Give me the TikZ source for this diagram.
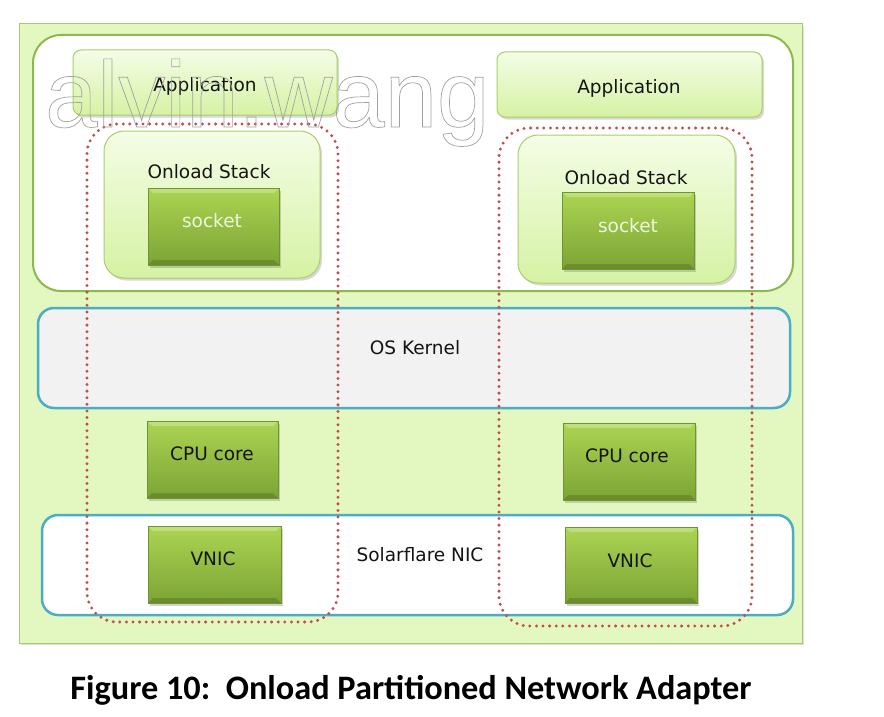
\documentclass[tikz,border=0pt]{standalone}
\usepackage{fontspec}
\setmainfont{DejaVu Sans}
\newfontfamily\capfont{Carlito}
\newfontfamily\wmfont{Liberation Sans}
\usetikzlibrary{shadows}
\definecolor{outerfill}{HTML}{E2F8C0}
\definecolor{outerline}{HTML}{A6CC6A}
\definecolor{appline}{HTML}{8DB84A}
\definecolor{boxline}{HTML}{A8CF6A}
\definecolor{boxtop}{HTML}{F4FDE6}
\definecolor{boxbot}{HTML}{D6F2A4}
\definecolor{gtop}{HTML}{ACD452}
\definecolor{gbot}{HTML}{7CA435}
\definecolor{gline}{HTML}{6E962F}
\definecolor{blueline}{HTML}{4BACC6}
\definecolor{kernfill}{HTML}{F2F2F2}
\definecolor{reddots}{HTML}{C0504D}
\definecolor{txt}{HTML}{141414}
\definecolor{socktxt}{HTML}{EEF7DD}
\definecolor{wmgray}{HTML}{A0A0A0}
\begin{document}
\begin{tikzpicture}[x=1pt,y=-1pt,
  outerbox/.style={draw=outerline, line width=1pt, fill=outerfill, inner sep=0pt, outer sep=0pt,
    drop shadow={shadow xshift=2pt, shadow yshift=-2pt, opacity=0.25}},
  appregion/.style={draw=appline, line width=2pt, fill=white, rounded corners=28pt, inner sep=0pt},
  appbox/.style={draw=boxline, line width=1pt, top color=boxtop, bottom color=boxbot,
    rounded corners=8pt, inner sep=0pt,
    drop shadow={shadow xshift=2pt, shadow yshift=-2.5pt, opacity=0.3}},
  stackbox/.style={appbox, rounded corners=20pt},
  greenbox/.style={draw=gline, line width=0.6pt, top color=gtop, bottom color=gbot, inner sep=0pt,
    drop shadow={shadow xshift=2pt, shadow yshift=-2.5pt, opacity=0.35},
    path picture={\fill[white,opacity=0.25] (path picture bounding box.north west) --
      (path picture bounding box.north east) -- ([xshift=-5pt,yshift=-5pt]path picture bounding box.north east)
      -- ([xshift=5pt,yshift=-5pt]path picture bounding box.north west) -- cycle;
      \fill[black,opacity=0.15] (path picture bounding box.south west) --
      (path picture bounding box.south east) -- ([xshift=-5pt,yshift=5pt]path picture bounding box.south east)
      -- ([xshift=5pt,yshift=5pt]path picture bounding box.south west) -- cycle;}},
  bluebox/.style={draw=blueline, line width=2.5pt, rounded corners=16pt, inner sep=0pt},
  reddot/.style={draw=reddots, line width=3.3pt, dash pattern=on 0pt off 6.6pt, line cap=round,
    rounded corners=30pt, inner sep=0pt},
  lbl/.style={font=\fontsize{18.5}{20}\selectfont, text=txt, inner sep=0pt},
  socklbl/.style={lbl, text=socktxt},
  wh/.style 2 args={minimum width=#1pt, minimum height=#2pt}
]
\useasboundingbox (0,0) rectangle (884,717);
\fill[white] (0,0) rectangle (884,717);

% outer
\node[outerbox, wh={783}{619}] (outer) at (410.5,333.5) {};
% application region
\node[appregion, wh={760}{256}] (appreg) at (413,163) {};

% applications
\node[appbox, wh={264}{65}] (appL) at (205,82.5) {};
\node[lbl] (appLt) at (205,86) {Application};
\node[appbox, wh={265}{65}] (appR) at (629.5,84.5) {};
\node[lbl] (appRt) at (629,88) {Application};

% onload stacks
\node[stackbox, wh={216}{147}] (stkL) at (212,204.5) {};
\node[lbl] (stkLt) at (209,172) {Onload Stack};
\node[greenbox, wh={131}{77}] (sockL) at (213.5,226.5) {};
\node[socklbl] (sockLt) at (212,221) {socket};

\node[stackbox, wh={217}{148}] (stkR) at (626.5,209) {};
\node[lbl] (stkRt) at (626,178) {Onload Stack};
\node[greenbox, wh={132}{77}] (sockR) at (628,230.5) {};
\node[socklbl] (sockRt) at (628,226) {socket};

% OS kernel
\node[bluebox, fill=kernfill, wh={752}{100}] (kern) at (414,358) {};
\node[lbl] (kernt) at (415,348) {OS Kernel};

% CPU cores
\node[greenbox, wh={131}{77}] (cpuL) at (212.5,459.5) {};
\node[lbl] (cpuLt) at (212,454) {CPU core};
\node[greenbox, wh={132}{77}] (cpuR) at (629,461.5) {};
\node[lbl] (cpuRt) at (627,456) {CPU core};

% Solarflare NIC
\node[bluebox, fill=white, wh={751}{100}] (nic) at (417.5,565) {};
\node[lbl] (nict) at (420,555) {Solarflare NIC};
\node[greenbox, wh={133}{77}] (vnicL) at (214.5,564.5) {};
\node[lbl] (vnicLt) at (213,559) {VNIC};
\node[greenbox, wh={132}{76}] (vnicR) at (631,565) {};
\node[lbl] (vnicRt) at (630,561) {VNIC};

% red dotted partitions
\node[reddot, wh={251}{498}] (partL) at (212.5,373) {};
\node[reddot, wh={253}{498}] (partR) at (625.5,377) {};

% watermark (outlined)
\node[anchor=base west, inner sep=0pt, text=wmgray] (wm) at (45,127)
  {\special{pdf:literal direct 1 Tr 0.7 w 0.63 G}\wmfont\fontsize{94}{94}\selectfont alvin.wang\special{pdf:literal direct 0 Tr}};

% caption
\node[inner sep=0pt, text=black, font=\capfont\bfseries\fontsize{34.3}{37}\selectfont] (cap) at (411,690)
  {Figure 10:\ \ Onload Partitioned Network Adapter};
\end{tikzpicture}
\end{document}
